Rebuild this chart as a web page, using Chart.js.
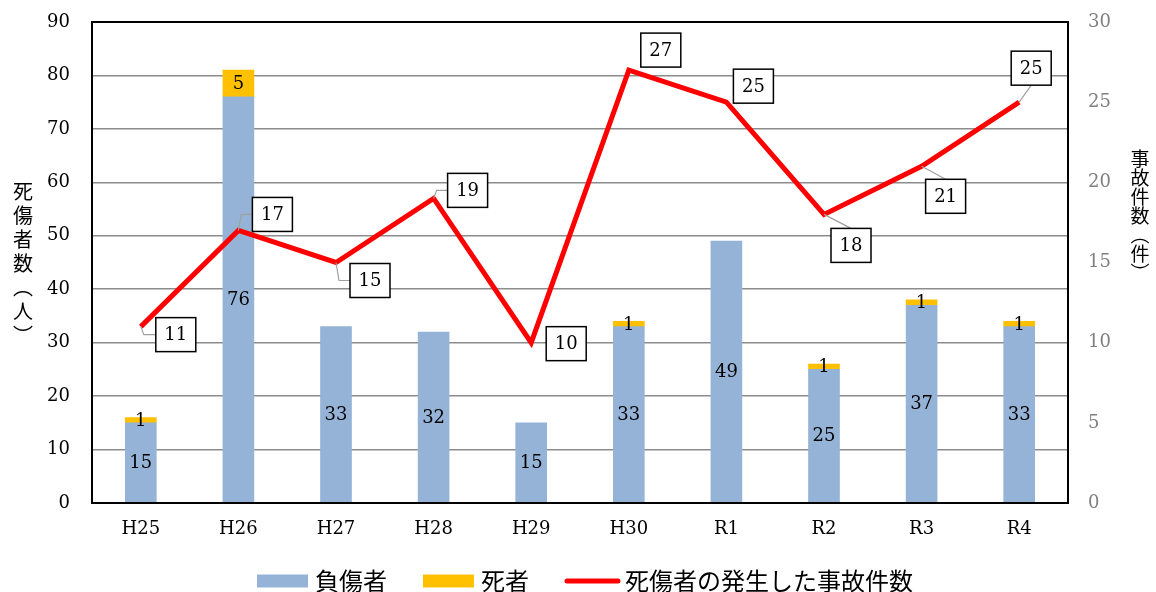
<!DOCTYPE html>
<html>
<head>
<meta charset="utf-8">
<script src="https://cdn.jsdelivr.net/npm/chart.js@4/dist/chart.umd.min.js"></script>
<style>
html,body{margin:0;padding:0;background:#fff;}
#c{display:block;}
</style>
</head>
<body>
<canvas id="c" width="1156" height="592"></canvas>
<script>
// ---- data ----
const categories = ['H25','H26','H27','H28','H29','H30','R1','R2','R3','R4'];
const injured = [15,76,33,32,15,33,49,25,37,33];
const deaths = [1,5,0,0,0,1,0,1,1,1];
const accidents = [11,17,15,19,10,27,25,18,21,25];
const seriesNames = ['負傷者','死者','死傷者の発生した事故件数'];
const leftTitle = ['死','傷','者','数','︵','人','︶'];
const rightTitle = ['事','故','件','数','︵','件','︶'];

// ---- label placement (style, not data) ----
const labelDX = [35,34,34,34,35,32,27,27,24,12];
const labelDY = [8,-16,18,-8,1,-20,-16,31,30,-34];
const leaderKind = ['elbow','elbow','elbow','elbow','none','none','none','diag','diag','diag'];

const SERIF = '"DejaVu Serif", "Liberation Serif", serif';
const JP = '"Noto Sans CJK JP", "Noto Sans", sans-serif';
const BLUE = '#95B3D7', ORANGE = '#FFC000', RED = '#FF0000';

const decor = {
  id: 'decor',
  afterDatasetsDraw(chart) {
    const ctx = chart.ctx;
    const ca = chart.chartArea;
    ctx.save();
    ctx.strokeStyle = '#000';
    ctx.lineWidth = 2;
    ctx.strokeRect(ca.left, ca.top, ca.right - ca.left, ca.bottom - ca.top);
    ctx.restore();

    ctx.save();
    ctx.font = '18px ' + SERIF;
    ctx.fillStyle = '#000';
    ctx.textAlign = 'center';
    ctx.textBaseline = 'middle';
    [1, 2].forEach(di => {
      const meta = chart.getDatasetMeta(di);
      const vals = chart.data.datasets[di].data;
      meta.data.forEach((el, i) => {
        if (!vals[i]) return;
        const p = el.getProps(['x', 'y', 'base'], true);
        ctx.fillText(String(vals[i]), p.x, (p.y + p.base) / 2 + 1);
      });
    });
    ctx.restore();

    const lm = chart.getDatasetMeta(0);
    const W = 40, H = 34;
    lm.data.forEach((pt, i) => {
      const px = pt.x, py = pt.y;
      const cx = px + labelDX[i], cy = py + labelDY[i];
      const bl = cx - W / 2, bt = cy - H / 2;
      ctx.save();
      ctx.strokeStyle = '#A0A0A0';
      ctx.lineWidth = 1.2;
      if (leaderKind[i] === 'elbow') {
        ctx.beginPath();
        ctx.moveTo(px, py);
        ctx.lineTo(px + 3, cy);
        ctx.lineTo(bl, cy);
        ctx.stroke();
      } else if (leaderKind[i] === 'diag') {
        const ey = cy > py ? bt : bt + H;
        ctx.beginPath();
        ctx.moveTo(px, py);
        ctx.lineTo(cx, ey);
        ctx.stroke();
      }
      ctx.fillStyle = '#fff';
      ctx.fillRect(bl, bt, W, H);
      ctx.strokeStyle = '#000';
      ctx.lineWidth = 1.5;
      ctx.strokeRect(bl, bt, W, H);
      ctx.fillStyle = '#000';
      ctx.font = '18px ' + SERIF;
      ctx.textAlign = 'center';
      ctx.textBaseline = 'middle';
      ctx.fillText(String(accidents[i]), cx, cy + 1);
      ctx.restore();
    });
  },
  afterDraw(chart) {
    const ctx = chart.ctx;
    ctx.save();
    ctx.fillStyle = '#000';
    ctx.textAlign = 'center';
    ctx.textBaseline = 'middle';
    ctx.font = '20px ' + JP;
    leftTitle.forEach((ch, i) => ctx.fillText(ch, 23, 191 + i * 24));
    ctx.font = '19px ' + JP;
    rightTitle.forEach((ch, i) => ctx.fillText(ch, 1140, 159 + i * 19));

    ctx.font = '24px ' + JP;
    ctx.textAlign = 'left';
    const ly = 581;
    let x = 257;
    ctx.fillStyle = BLUE;
    ctx.fillRect(x, ly - 6.5, 51, 13);
    ctx.fillStyle = '#000';
    ctx.fillText(seriesNames[0], x + 58, ly);
    x = x + 58 + ctx.measureText(seriesNames[0]).width + 36;
    ctx.fillStyle = ORANGE;
    ctx.fillRect(x, ly - 6.5, 51, 13);
    ctx.fillStyle = '#000';
    ctx.fillText(seriesNames[1], x + 58, ly);
    x = x + 58 + ctx.measureText(seriesNames[1]).width + 36;
    ctx.strokeStyle = RED;
    ctx.lineWidth = 5;
    ctx.lineCap = 'round';
    ctx.beginPath();
    ctx.moveTo(x + 2, ly);
    ctx.lineTo(x + 53, ly);
    ctx.stroke();
    ctx.fillStyle = '#000';
    ctx.fillText(seriesNames[2], x + 60, ly);
    ctx.restore();
  }
};

new Chart(document.getElementById('c'), {
  type: 'bar',
  data: {
    labels: categories,
    datasets: [
      { type: 'line', label: seriesNames[2], data: accidents, yAxisID: 'y2',
        borderColor: RED, backgroundColor: RED, borderWidth: 5, pointRadius: 0,
        tension: 0, fill: false, order: 0 },
      { label: seriesNames[0], data: injured, backgroundColor: BLUE, stack: 's',
        yAxisID: 'y', order: 1, barThickness: 31 },
      { label: seriesNames[1], data: deaths.map(v => v === 0 ? null : v), backgroundColor: ORANGE, stack: 's',
        yAxisID: 'y', order: 1, barThickness: 31 }
    ]
  },
  options: {
    responsive: false,
    animation: false,
    layout: { padding: { top: 22, bottom: 50, left: 0, right: 0 } },
    scales: {
      x: {
        stacked: true,
        grid: { display: false, drawTicks: false },
        border: { color: '#000', width: 2 },
        ticks: { color: '#000', font: { family: SERIF, size: 18 }, padding: 16 },
        afterFit: s => { s.height = 39; }
      },
      y: {
        stacked: true, position: 'left', min: 0, max: 90,
        ticks: { stepSize: 10, color: '#000', font: { family: SERIF, size: 18 }, padding: 22 },
        grid: { color: '#8C8C8C', lineWidth: 1.5, drawTicks: false },
        border: { color: '#000', width: 2 },
        afterFit: s => { s.width = 92; s.paddingTop = 0; s.paddingBottom = 0; }
      },
      y2: {
        position: 'right', min: 0, max: 30,
        ticks: { stepSize: 5, color: '#808080', font: { family: SERIF, size: 18 }, padding: 20 },
        grid: { display: false, drawTicks: false },
        border: { color: '#000', width: 2 },
        afterFit: s => { s.width = 88; s.paddingTop = 0; s.paddingBottom = 0; }
      }
    },
    plugins: { legend: { display: false }, tooltip: { enabled: false } }
  },
  plugins: [decor]
});
</script>
</body>
</html>
